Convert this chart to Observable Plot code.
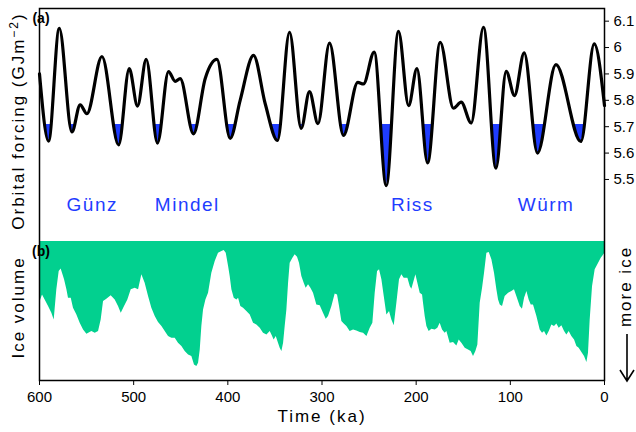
<!DOCTYPE html>
<html><head><meta charset="utf-8">
<script src="https://cdn.jsdelivr.net/npm/d3@7"></script>
<script src="https://cdn.jsdelivr.net/npm/@observablehq/plot@0.6"></script>
<style>
html,body{margin:0;padding:0;background:#fff;}
#chart{position:relative;width:636px;height:432px;}
#chart svg{position:absolute;left:0;top:0;}
</style></head><body><div id="chart"></div>
<script>
// ---- Orbital forcing (a): age (ka) and value (GJ m^-2) at extrema / shoulders
const orbAge = [600, 590.4, 579, 565.6, 556.8, 549.7, 533.7, 516, 504.7, 495.9, 486.7, 474.7, 463, 455.9, 450.6, 436.5, 424, 411.6,
  397.5, 386.9, 372.7, 360.3, 347.3, 334.5, 322.1, 313.3, 304.3, 292, 277.2, 262, 256, 244.6, 231.8, 218.8,
  208, 199.2, 187.9, 174.5, 160.4, 152.2, 141.6, 128.5, 115.3, 104.4, 95.6, 85.3, 71.2, 51.6, 25.1, 10.9, 0];
const orbVal = [5.90, 5.645, 6.073, 5.68, 5.783, 5.749, 5.966, 5.631, 5.92, 5.778, 5.955, 5.638, 5.909, 5.872, 5.882, 5.673, 5.883, 5.955,
  5.656, 5.80, 5.97, 5.787, 5.648, 6.058, 5.694, 5.833, 5.712, 6.017, 5.667, 5.868, 5.862, 5.983, 5.477, 6.061,
  5.78, 5.92, 5.563, 6.02, 5.77, 5.793, 5.714, 6.077, 5.543, 5.91, 5.818, 5.98, 5.60, 5.935, 5.644, 6.014, 5.78];
const orbThreshold = 5.708;
const orbTicks = [5.5, 5.6, 5.7, 5.8, 5.9, 6.0, 6.1];
const orbDomain = [4.738, 6.148];

// ---- Glacial stage labels
const stageNames = ["Günz", "Mindel", "Riss", "Würm"];
const stageAge = [544, 443, 204, 62];

// ---- Ice volume (b): relative units (0 = least ice shown, 100 = most), increasing downward
const iceAge = [600, 596.8, 594, 590.4, 586.9, 584.4, 581.6, 579.1, 577, 573.4, 570.9, 569.2, 566.3, 563.9, 560.3, 556.8, 553.2, 549.7, 544.4, 540.8,
  537.3, 534.5, 532, 528.5, 523.9, 519.6, 516.1, 513.2, 509.7, 506.2, 502.6, 498.4, 494.8, 491.3, 487.8, 484.2, 480.7, 477.1, 473.6, 470.0,
  466.5, 463, 459.4, 455.9, 452.4, 448.8, 445.3, 441.7, 438.2, 435.4, 432.9, 431.1, 429.3, 427.6, 425.8, 423.3, 420.5, 417, 413.4, 409.9, 406.3,
  403.9, 401.7, 399.2, 397.5, 395.7, 393.2, 390.4, 388.6, 386.2, 383.3, 379.8, 376.2, 372.7, 369.2, 365.6, 362.1, 358.5, 355, 353.2, 350.8,
  348.6, 346.2, 344.4, 342.6, 340.8, 339.1, 337.3, 335.5, 333.8, 330.9, 328.5, 326, 323.9, 321.4, 318.9, 316.8, 314.3, 311.8, 309, 305.5,
  301.9, 298.4, 295.5, 293.1, 289.5, 286, 283.5, 281.4, 278.9, 276.4, 273.6, 270.1, 266.5, 263, 259.4, 255.9, 252.3, 248.8, 246, 243.5,
  241, 238.9, 236.4, 233.9, 231.1, 228.3, 225.8, 223.3, 220.5, 217.7, 215.2, 212.7,
  208.8, 206.3, 204.6, 202.8, 200.3, 198.2, 195.7, 193.2, 192.2, 190.4, 188.6, 186.2, 183.3, 179.8, 177, 174.5, 172, 169.2, 167.4, 163.9,
  160.3, 156.8, 154.3, 151.5, 147.9, 144.4, 141.6, 139.1, 136.6, 134.5, 132, 129.5, 127.4, 124.9, 122.4, 119.6, 116.8, 114.3, 112.5, 110.7,
  108.3, 105.5, 101.9, 98.4, 95.6, 93.1, 89.5, 87.1, 84.9, 82.4, 80, 77.8, 75.4, 71.8, 68.3, 65.8, 63.7, 61.2, 58.7, 55.9,
  53.1, 50.6, 48.1, 45.3, 42.4, 40, 37.5, 34.7, 31.8, 29.3, 26.9, 24, 21.2, 18.7, 17, 15.2, 12.7, 9.9, 7.1, 3.5, 0];
const iceVol = [44.4, 38.4, 42, 46.8, 51.6, 56.4, 34.8, 21.6, 19.7, 27.6, 34.8, 40.8, 40.8, 48, 52.8, 58.8, 63.6, 66.7, 64.8, 66,
  64.8, 56.4, 43.2, 41.5, 39.1, 42, 46.8, 51.6, 46.8, 42, 34.8, 33.6, 34.8, 24, 30, 39.6, 48, 54, 58.3, 61.2,
  64.8, 68.4, 69.6, 69.6, 73.2, 75.6, 79.2, 81.6, 82.8, 88.8, 90, 87.6, 78, 61.2, 49.2, 42, 37.2, 22.8, 14.4, 8.4, 7.2,
  6.5, 8.4, 18, 25.2, 34.8, 40.8, 42, 40.8, 46.8, 48, 50.4, 52.8, 58.8, 60, 62.4, 66, 67.2, 64.8, 67.2, 70.8,
  68.4, 73.2, 76.8, 79.2, 73.2, 61.2, 49.2, 30, 15.6, 12, 9.6, 11.3, 15.6, 25.2, 30, 33.6, 31.2, 33.6, 37.2, 45.6,
  46.3, 51.6, 55.9, 54, 46.8, 37.7, 38.4, 46.8, 57.6, 59.3, 61.2, 64.8, 63.6, 64.3, 65.5, 66, 68.4, 62.4, 58.8, 37.2,
  21.6, 20.4, 27.6, 39.6, 52.8, 50.4, 56.4, 60.7, 44.4, 27.6, 24, 26.4,
  26.4, 32.4, 34.3, 30, 24, 30, 37.2, 38.4, 44.4, 54, 61.2, 64.8, 63.1, 63.6, 62.4, 58.8, 63.6, 66, 64.8, 73.2,
  72.7, 75.1, 70.8, 73.2, 76.8, 78, 79.2, 82.8, 79.2, 74.4, 44.4, 33.6, 22.8, 8.4, 7.9, 13.2, 22.8, 34.8, 42, 45.6,
  46.8, 39.6, 37.2, 36, 34.8, 39.6, 46.8, 48.7, 40.8, 36, 42, 45.6, 45.6, 54, 63.6, 66, 64.8, 67.9, 64.8, 60,
  61.2, 59.3, 62.4, 60.7, 64.8, 67.2, 64.8, 68.4, 70.8, 75.6, 76.8, 79.9, 82.8, 87.1, 80.4, 56.4, 32.4, 20.4, 16.8, 12, 8.9];
const ageTicks = [600, 500, 400, 300, 200, 100, 0];

const orb = orbAge.map((t, i) => ({t, v: orbVal[i]}));
const ice = iceAge.map((t, i) => ({t, u: iceVol[i]}));

const W = 636, H = 432, mL = 39, mR = 32, mT = 8, mB = 52;
const FONT = "'Liberation Sans', Arial, Helvetica, sans-serif";
const BLUE = "#1f3dff", GREEN = "#02d08f";

const icePlot = Plot.plot({
  width: W, height: H, marginLeft: mL, marginRight: mR, marginTop: mT, marginBottom: mB,
  style: {background: "transparent"},
  x: {domain: [600, 0], axis: null},
  y: {domain: [0, 100], range: [241, 380], axis: null},
  marks: [Plot.areaY(ice, {x: "t", y1: 0, y2: "u", fill: GREEN})]
});

const orbPlot = Plot.plot({
  width: W, height: H, marginLeft: mL, marginRight: mR, marginTop: mT, marginBottom: mB,
  style: {background: "transparent", fontFamily: FONT, fontSize: "15px", color: "black"},
  x: {domain: [600, 0], ticks: ageTicks, tickSize: 5, tickPadding: 6, label: null, tickFormat: d => String(d)},
  y: {domain: orbDomain, axis: "right", ticks: orbTicks, tickSize: 4, tickPadding: 5, label: null,
      tickFormat: d => String(+(+d).toFixed(1))},
  marks: [
    Plot.areaY(orb, {x: "t", y1: orbThreshold, y2: "v", curve: "monotone-x", fill: BLUE}),
    Plot.line(orb, {x: "t", y: "v", curve: "monotone-x", stroke: "black", strokeWidth: 3.2}),
    Plot.text(stageNames, {x: stageAge, y: 5.405, text: d => d, fill: BLUE, fontSize: 19, fontFamily: FONT}),
    Plot.frame({stroke: "black", strokeWidth: 1.5})
  ]
});

const root = document.getElementById("chart");
root.appendChild(icePlot);
root.appendChild(orbPlot);

const svg = d3.select(orbPlot);
const ys = orbPlot.scale("y"), xs = orbPlot.scale("x");
const yT = ys.apply(orbThreshold), yB = ys.apply(orbDomain[0]);
const x0 = Math.min(...xs.range), x1 = Math.max(...xs.range);
svg.append("defs").append("clipPath").attr("id", "belowThreshold")
  .append("rect").attr("x", x0).attr("y", yT).attr("width", x1 - x0).attr("height", yB - yT);
svg.select('g[aria-label="area"]').attr("clip-path", "url(#belowThreshold)");
svg.selectAll('g[aria-label="text"] text').style("letter-spacing", "1.5px");

const ann = svg.append("g").attr("font-family", FONT).attr("fill", "black");
ann.append("text").attr("x", 41).attr("y", 23).attr("font-weight", "bold").attr("font-size", 14).text("(a)");
ann.append("text").attr("x", 41).attr("y", 256).attr("font-weight", "bold").attr("font-size", 14).text("(b)");

function rotLabel(x, y, size) {
  return ann.append("text").attr("transform", `translate(${x},${y}) rotate(-90)`)
    .attr("text-anchor", "middle").attr("font-size", size).style("letter-spacing", "2px");
}
const ol = rotLabel(24, 121, 17);
ol.append("tspan").text("Orbital forcing (GJm");
ol.append("tspan").attr("dy", -6).attr("font-size", 12).text("−2");
ol.append("tspan").attr("dy", 6).text(")");
rotLabel(24, 307.5, 17).text("Ice volume");
rotLabel(631, 286.5, 17).text("more ice");
ann.append("text").attr("x", 322).attr("y", 422).attr("text-anchor", "middle")
  .attr("font-size", 17).style("letter-spacing", "2px").text("Time (ka)");

// arrow pointing to "more ice" direction
const arr = ann.append("g").attr("stroke", "black").attr("stroke-width", 1.6).attr("fill", "none");
arr.append("path").attr("d", "M627,334 L627,381 M620,370 L627,381 L634,370");
</script></body></html>
